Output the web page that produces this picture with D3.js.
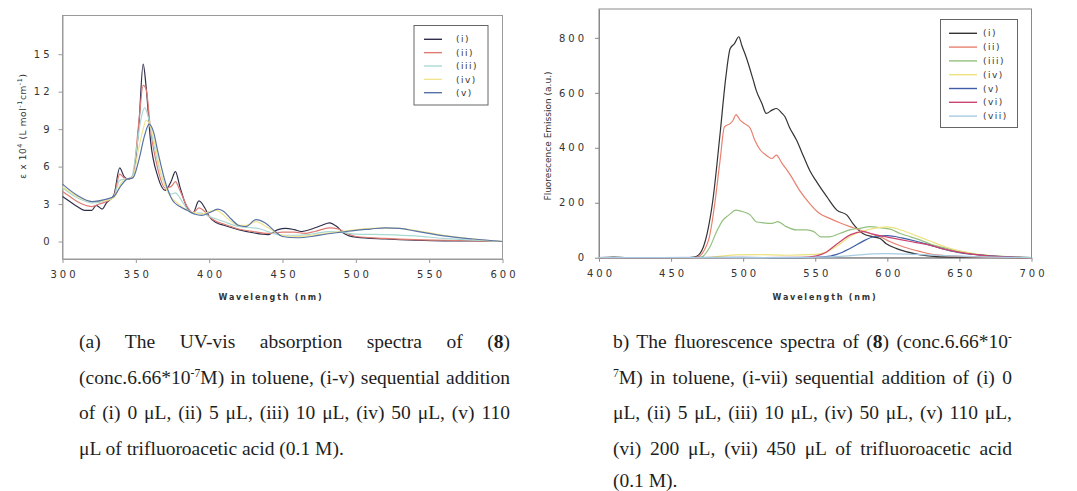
<!DOCTYPE html>
<meta charset="utf-8">
<html>
<head>
<title>UV-vis and fluorescence spectra of (8)</title>
<script src="https://d3js.org/d3.v7.min.js"></script>
<style>
  body { margin: 0; background: #fff; width: 1077px; height: 491px; overflow: hidden; position: relative; }
  svg { position: absolute; left: 0; top: 0; }
  .caption { position: absolute; font-family: "Liberation Serif", "Times New Roman", serif; font-size: 19.5px; color: #1e1e1e; line-height: 35.5px; }
  .caption div { text-align: justify; text-align-last: justify; white-space: nowrap; }
  .caption div.last { text-align-last: left; }
  .caption div.tail { line-height: 30px; }
  .caption sup { font-size: 0.6em; vertical-align: super; line-height: 0; }
  .tick text { font-family: "DejaVu Sans", sans-serif; font-size: 10px; letter-spacing: 3px; fill: #333; }
</style>
</head>
<body>
<svg id="chart" width="1077" height="491"></svg>

<div class="caption" style="left:79px; top:324px; width:431px;">
  <div>(a) The UV-vis absorption spectra of (<b>8</b>)</div>
  <div>(conc.6.66*10<sup>-7</sup>M) in toluene, (i-v) sequential addition</div>
  <div>of (i) 0 μL, (ii) 5 μL, (iii) 10 μL, (iv) 50 μL, (v) 110</div>
  <div class="last">μL of trifluoroacetic acid (0.1 M).</div>
</div>

<div class="caption" style="left:613px; top:324px; width:399px;">
  <div>b) The fluorescence spectra of (<b>8</b>) (conc.6.66*10<sup>-</sup></div>
  <div><sup>7</sup>M) in toluene, (i-vii) sequential addition of (i) 0</div>
  <div>μL, (ii) 5 μL, (iii) 10 μL, (iv) 50 μL, (v) 110 μL,</div>
  <div>(vi) 200 μL, (vii) 450 μL of trifluoroacetic acid</div>
  <div class="last tail">(0.1 M).</div>
</div>

<script>
// ---- UV-vis absorption, eps x 10^4, [wavelength nm, value] ----
var uvI = [[300,3.6],[305,3.2],[310,2.8],[315,2.5],[320,2.5],[323,2.9],[327,2.6],[330,3.1],[335,3.7],[339,5.9],[342,5.2],[345,5.0],[348,5.2],[352,9.2],[355,14.2],[357,12.4],[360,8.1],[365,5.2],[370,4.1],[374,4.8],[377,5.6],[380,4.4],[385,2.7],[389,2.3],[393,3.25],[397,2.7],[400,2.0],[405,1.5],[410,1.3],[420,0.95],[430,0.7],[440,0.55],[447,0.95],[452,1.05],[458,0.95],[463,0.8],[470,1.0],[477,1.3],[482,1.5],[487,1.2],[492,0.65],[500,0.35],[520,0.2],[540,0.1],[560,0.05],[580,0.05],[600,0.0]];
var uvII = [[300,4.0],[305,3.6],[310,3.2],[320,2.8],[325,3.0],[330,3.2],[335,3.6],[339,5.4],[342,5.1],[345,5.0],[348,5.3],[352,9.5],[355,12.5],[357,12.2],[360,9.0],[365,5.8],[370,4.3],[374,4.4],[377,4.8],[380,4.1],[385,2.8],[389,2.3],[393,2.7],[397,2.4],[400,2.0],[405,1.6],[410,1.4],[420,1.0],[430,0.8],[440,0.65],[450,0.75],[458,0.75],[465,0.65],[472,0.8],[482,1.1],[488,1.0],[495,0.6],[500,0.4],[520,0.25],[540,0.15],[560,0.1],[580,0.05],[600,0.0]];
var uvIII = [[300,4.3],[310,3.5],[320,3.1],[330,3.3],[335,3.6],[339,4.9],[343,5.0],[347,5.1],[350,7.0],[353,9.5],[356,10.7],[358,10.2],[361,8.5],[365,6.3],[370,4.5],[374,3.8],[377,3.9],[380,3.5],[385,2.6],[390,2.2],[393,2.3],[397,2.2],[400,2.0],[405,1.8],[410,1.6],[420,1.2],[430,1.1],[435,1.0],[440,0.8],[450,0.5],[460,0.5],[470,0.6],[482,0.8],[490,0.75],[500,0.6],[520,0.55],[540,0.45],[560,0.25],[580,0.1],[600,0.0]];
var uvIV = [[300,4.4],[310,3.6],[320,3.2],[330,3.3],[335,3.5],[340,4.7],[344,5.0],[348,5.2],[352,7.5],[355,9.0],[357,9.7],[360,9.2],[363,7.8],[367,5.5],[372,3.9],[378,3.1],[385,2.5],[390,2.3],[395,2.2],[400,2.4],[405,2.5],[410,2.1],[415,1.6],[420,1.3],[425,1.3],[432,1.6],[440,1.1],[450,0.5],[460,0.4],[470,0.5],[480,0.65],[490,0.8],[500,0.95],[510,1.05],[520,1.1],[530,1.05],[540,0.9],[560,0.5],[580,0.2],[600,0.0]];
var uvV = [[300,4.6],[310,3.7],[320,3.2],[330,3.4],[335,3.6],[340,4.5],[344,5.0],[348,5.1],[352,6.5],[356,8.5],[359,9.4],[362,8.8],[365,7.2],[370,4.8],[375,3.3],[380,2.8],[385,2.5],[390,2.2],[395,2.1],[400,2.3],[406,2.6],[410,2.4],[415,1.8],[420,1.3],[425,1.2],[432,1.75],[438,1.5],[445,0.8],[450,0.4],[460,0.3],[470,0.4],[480,0.6],[490,0.75],[500,0.9],[510,1.0],[520,1.1],[530,1.05],[540,0.85],[560,0.45],[580,0.2],[600,0.0]];

var uvLabels = ["(i)", "(ii)", "(iii)", "(iv)", "(v)"];
var uvColors = ["#2f2f4c", "#e07a72", "#a9d8d2", "#f1e48e", "#5873a8"];
var uvXTicks = [300, 350, 400, 450, 500, 550, 600];
var uvYTicks = [0, 3, 6, 9, 12, 15];

// ---- Fluorescence emission, a.u., [wavelength nm, value] ----
var flI = [[400,0],[410,2],[420,0],[440,0],[460,0],[466,2],[470,15],[475,88],[479,210],[484,452],[488,658],[491,761],[494,779],[497,804],[499,773],[502,731],[507,646],[509,610],[513,561],[516,525],[520,537],[523,543],[527,525],[529,513],[532,476],[537,428],[542,367],[546,319],[551,276],[558,222],[565,173],[572,155],[576,125],[583,88],[590,76],[595,70],[599,52],[606,34],[613,22],[623,10],[634,4],[650,2],[700,0]];
var flII = [[400,0],[440,0],[462,0],[468,2],[476,64],[480,185],[484,355],[487,476],[491,488],[493,500],[495,521],[498,500],[501,488],[505,470],[508,428],[512,391],[516,373],[520,361],[523,373],[527,343],[532,307],[539,246],[546,198],[553,161],[560,143],[567,127],[574,113],[581,101],[588,88],[595,76],[602,58],[611,40],[623,22],[634,10],[660,3],[700,0]];
var flIII = [[400,0],[440,0],[468,0],[471,2],[477,40],[482,100],[486,137],[490,155],[495,173],[500,167],[505,155],[509,131],[514,127],[520,125],[524,131],[530,113],[537,101],[544,101],[549,95],[554,76],[560,76],[567,88],[574,101],[581,107],[588,113],[595,109],[602,104],[609,88],[616,76],[623,64],[632,46],[641,34],[650,22],[664,10],[700,0]];
var flIV = [[400,0],[470,0],[485,6],[495,10],[510,11],[530,9],[550,12],[556,18],[565,42],[575,80],[585,100],[595,110],[600,112],[610,100],[620,80],[630,60],[640,40],[650,25],[660,15],[680,5],[700,0]];
var flV = [[400,0],[440,0],[500,1],[540,0],[556,3],[565,12],[575,36],[585,65],[592,78],[600,80],[610,72],[620,60],[630,45],[640,30],[650,18],[660,12],[680,4],[700,0]];
var flVI = [[400,0],[450,0],[540,1],[550,6],[557,18],[565,50],[575,85],[583,95],[590,86],[600,75],[610,65],[620,55],[630,45],[640,30],[650,20],[660,12],[680,3],[700,0]];
var flVII = [[400,0],[500,0],[540,1],[560,3],[570,6],[580,10],[590,14],[600,15],[620,12],[640,8],[660,4],[700,0]];

var flLabels = ["(i)", "(ii)", "(iii)", "(iv)", "(v)", "(vi)", "(vii)"];
var flColors = ["#333336", "#e8806e", "#94c07e", "#ece27e", "#3d5ea6", "#cc4470", "#a6cbe2"];
var flXTicks = [400, 450, 500, 550, 600, 650, 700];
var flYTicks = [0, 200, 400, 600, 800];

var svg = d3.select("#chart");

function drawChart(o) {
  var x = d3.scaleLinear().domain(o.xDomain).range([o.left, o.right]);
  var y = d3.scaleLinear().domain(o.yDomain).range([o.bottom, o.top]);
  var g = svg.append("g");

  // plot frame
  g.append("rect")
    .attr("x", o.left).attr("y", o.top)
    .attr("width", o.right - o.left).attr("height", o.bottom - o.top)
    .attr("fill", "none").attr("stroke", o.frame).attr("stroke-width", 1);

  var xa = g.append("g")
    .attr("transform", "translate(0," + o.xAxisY + ")")
    .call(d3.axisBottom(x).tickValues(o.xTicks).tickSize(4).tickSizeOuter(0).tickPadding(8));
  var ya = g.append("g")
    .attr("transform", "translate(" + o.left + ",0)")
    .call(d3.axisLeft(y).tickValues(o.yTicks).tickSize(4).tickSizeOuter(0).tickPadding(o.yPad));
  [xa, ya].forEach(function(a) {
    a.select(".domain").attr("stroke", o.frame);
    a.selectAll(".tick line").attr("stroke", o.frame);
  });
  xa.selectAll(".tick text").attr("dx", "1.5px");

  // curves
  var line = d3.line()
    .x(function(d) { return x(d[0]); })
    .y(function(d) { return y(d[1]); })
    .curve(d3.curveMonotoneX);
  o.series.forEach(function(s, i) {
    g.append("path")
      .datum(s)
      .attr("d", line)
      .attr("fill", "none")
      .attr("stroke", o.colors[i])
      .attr("stroke-width", 1.2)
      .attr("stroke-linejoin", "round");
  });

  // x title
  g.append("text")
    .attr("x", o.xTitleX).attr("y", o.xTitleY)
    .attr("text-anchor", "middle")
    .style("font-family", "DejaVu Sans, sans-serif")
    .style("font-size", "8px").style("font-weight", "bold")
    .style("letter-spacing", "1.8px").attr("fill", "#333")
    .text("Wavelength (nm)");

  // legend
  var lg = g.append("g");
  lg.append("rect")
    .attr("x", o.legend.x).attr("y", o.legend.y)
    .attr("width", o.legend.w).attr("height", o.legend.h)
    .attr("fill", "#fff").attr("stroke", "#666").attr("stroke-width", 1);
  o.labels.forEach(function(lab, i) {
    var ry = o.legend.row0 + i * o.legend.step;
    lg.append("line")
      .attr("x1", o.legend.lx1).attr("x2", o.legend.lx2)
      .attr("y1", ry).attr("y2", ry)
      .attr("stroke", o.colors[i]).attr("stroke-width", 1.4);
    lg.append("text")
      .attr("x", o.legend.tx).attr("y", ry).attr("dy", "0.35em")
      .style("font-family", "DejaVu Sans, sans-serif")
      .style("font-size", "9px").style("letter-spacing", "1.5px")
      .attr("fill", "#333").text(lab);
  });
  return g;
}

var gL = drawChart({
  left: 62.5, right: 502.5, top: 15.5, bottom: 259, xAxisY: 259,
  xDomain: [300, 600], yDomain: [-1.4, 18.1],
  xTicks: uvXTicks, yTicks: uvYTicks, yPad: 6,
  frame: "#9a9a9a",
  series: [uvI, uvII, uvIII, uvIV, uvV], colors: uvColors, labels: uvLabels,
  xTitleX: 271, xTitleY: 300,
  legend: {x: 414, y: 25.5, w: 74, h: 79.5, row0: 39.3, step: 13.35, lx1: 424, lx2: 442, tx: 456}
});

var gR = drawChart({
  left: 599, right: 1031.5, top: 9, bottom: 257.7, xAxisY: 257.7,
  xDomain: [400, 700], yDomain: [0, 905],
  xTicks: flXTicks, yTicks: flYTicks, yPad: 8,
  frame: "#8a8a8a",
  series: [flI, flII, flIII, flIV, flV, flVI, flVII], colors: flColors, labels: flLabels,
  xTitleX: 825, xTitleY: 300,
  legend: {x: 940.5, y: 19.5, w: 77, h: 108, row0: 33.3, step: 13.8, lx1: 949, lx2: 977, tx: 983}
});

// y axis titles
var yt1 = svg.append("text")
  .attr("transform", "translate(26,126) rotate(-90)")
  .attr("text-anchor", "middle")
  .style("font-family", "DejaVu Sans, sans-serif")
  .style("font-size", "9px").style("letter-spacing", "0.6px")
  .attr("fill", "#333");
yt1.append("tspan").text("ε x 10");
yt1.append("tspan").attr("dy", "-4").style("font-size", "6.5px").text("4");
yt1.append("tspan").attr("dy", "4").text(" (L mol");
yt1.append("tspan").attr("dy", "-4").style("font-size", "6.5px").text("-1");
yt1.append("tspan").attr("dy", "4").text("cm");
yt1.append("tspan").attr("dy", "-4").style("font-size", "6.5px").text("-1");
yt1.append("tspan").attr("dy", "4").text(")");

svg.append("text")
  .attr("transform", "translate(551,136) rotate(-90)")
  .attr("text-anchor", "middle")
  .style("font-family", "DejaVu Sans, sans-serif")
  .style("font-size", "9px")
  .attr("fill", "#333")
  .text("Fluorescence Emission (a.u.)");
</script>
</body>
</html>
